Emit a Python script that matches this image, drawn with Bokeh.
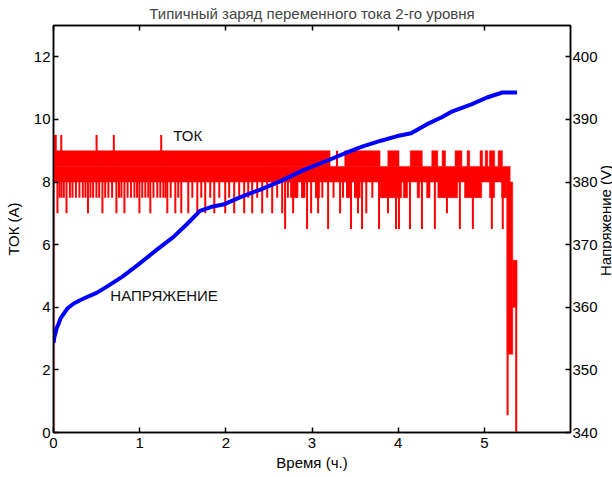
import math
from bokeh.plotting import figure
from bokeh.layouts import row
from bokeh.models import Range1d, LinearAxis, FixedTicker, Label, ColumnDataSource
from bokeh.embed import file_html
from bokeh.resources import INLINE

FONT = "Liberation Sans"

TITLE = "Типичный заряд переменного тока 2-го уровня"
X_LABEL = "Время (ч.)"
Y_LEFT_LABEL = "ТОК (A)"
Y_RIGHT_LABEL = "Напряжение (V)"
CURRENT_NAME = "ТОК"
VOLTAGE_NAME = "НАПРЯЖЕНИЕ"

x_ticks = [0, 1, 2, 3, 4, 5]
y_left_ticks = [0, 2, 4, 6, 8, 10, 12]
y_right_ticks = [340, 350, 360, 370, 380, 390, 400]

# Voltage (V) over time (h)
volt_t = [0.000, 0.010, 0.023, 0.040, 0.060, 0.080, 0.110, 0.160, 0.235, 0.35, 0.50,
          0.62, 0.80, 1.01, 1.20, 1.39, 1.55, 1.70, 1.85, 1.97, 2.17, 2.40, 2.63,
          2.90, 3.21, 3.40, 3.59, 3.80, 3.98, 4.15, 4.33, 4.50, 4.63, 4.85, 5.03,
          5.21, 5.38]
volt_v = [354.3, 355.2, 355.9, 356.8, 357.4, 358.2, 358.8, 359.8, 360.6, 361.4, 362.3,
          363.3, 364.9, 367.1, 369.2, 371.2, 373.3, 375.4, 376.1, 376.4, 377.6, 378.8, 380.1,
          381.9, 383.6, 384.7, 385.7, 386.6, 387.3, 387.8, 389.2, 390.3, 391.3, 392.4, 393.5,
          394.3, 394.3]

# Current (A): dense oscillation bands (time span and level span)
band_t0 = [0.00, 0.00, 0.00, 3.38, 3.88, 4.14, 4.39, 4.51, 4.66, 4.80, 4.95, 5.01, 5.06, 5.16,
           2.77, 2.885, 3.04, 3.41, 3.50, 3.79, 4.06, 4.22, 4.33, 4.46, 4.77, 5.06, 5.20,
           5.26, 5.33]
band_t1 = [5.30, 3.21, 0.035, 3.79, 4.01, 4.28, 4.46, 4.55, 4.74, 4.83, 4.98, 5.04, 5.12, 5.21,
           2.83, 2.92, 3.09, 3.46, 3.56, 4.04, 4.11, 4.25, 4.37, 4.69, 4.97, 5.12, 5.26,
           5.33, 5.38]
band_lo = [8.0, 8.5, 9.0, 8.5, 8.5, 8.5, 8.5, 8.5, 8.5, 8.5, 8.5, 8.5, 8.5, 8.5,
           7.5, 7.5, 7.5, 7.5, 7.5, 7.5, 7.5, 7.5, 7.5, 7.5, 7.5, 7.5, 7.5,
           2.5, 4.0]
band_hi = [8.5, 9.0, 9.5, 9.0, 9.0, 9.0, 9.0, 9.0, 9.0, 9.0, 9.0, 9.0, 9.0, 9.0,
           8.0, 8.0, 8.0, 8.0, 8.0, 8.0, 8.0, 8.0, 8.0, 8.0, 8.0, 8.0, 8.0,
           8.0, 5.5]

# Current (A): single-sample excursions (time, from level, to level)
spike_t = [0.000,
           0.09, 0.50, 0.70, 1.25, 3.29,
           0.046, 0.093, 0.151, 0.220, 0.301, 0.371, 0.429, 0.498, 0.568, 0.637,
           0.730, 0.788, 0.823, 0.939, 0.997, 1.066, 1.124, 1.205, 1.275, 1.321,
           1.414, 1.448, 1.483, 1.564, 1.611, 1.669, 1.715, 1.761, 1.819, 1.866,
           1.924, 1.993, 2.039, 2.097, 2.155, 2.213, 2.260, 2.306, 2.364, 2.422,
           2.480, 2.538, 2.596, 2.654,
           2.688, 2.758, 2.781, 2.885, 2.943, 3.048, 3.071, 3.187, 3.326, 3.407,
           3.453, 3.499, 3.534, 3.581, 3.778, 3.824, 3.882, 3.928, 3.975,
           4.009, 4.137, 4.276, 4.426, 4.566, 4.716, 4.867, 5.087, 5.214,
           0.07, 0.12, 0.19, 0.26, 0.34, 0.40, 0.46, 0.53, 0.60, 0.68, 0.76,
           0.86, 0.90, 0.97, 1.03, 1.10, 1.16, 1.24, 1.30, 1.36,
           2.72, 2.83, 2.99, 3.12, 3.25, 3.36, 3.63, 3.70,
           5.27, 5.37]
spike_from = [0.0,
              8.5, 8.5, 8.5, 8.5, 8.5,
              8.0, 8.0, 8.0, 8.0, 8.0, 8.0, 8.0, 8.0, 8.0, 8.0,
              8.0, 8.0, 8.0, 8.0, 8.0, 8.0, 8.0, 8.0, 8.0, 8.0,
              8.0, 8.0, 8.0, 8.0, 8.0, 8.0, 8.0, 8.0, 8.0, 8.0,
              8.0, 8.0, 8.0, 8.0, 8.0, 8.0, 8.0, 8.0, 8.0, 8.0,
              8.0, 8.0, 8.0, 8.0,
              8.0, 8.0, 8.0, 8.0, 8.0, 8.0, 8.0, 8.0, 8.0, 8.0,
              8.0, 8.0, 8.0, 8.0, 8.0, 8.0, 8.0, 8.0, 8.0,
              8.0, 8.0, 8.0, 8.0, 8.0, 8.0, 8.0, 8.0, 8.0,
              8.0, 8.0, 8.0, 8.0, 8.0, 8.0, 8.0, 8.0, 8.0, 8.0, 8.0,
              8.0, 8.0, 8.0, 8.0, 8.0, 8.0, 8.0, 8.0, 8.0,
              8.0, 8.0, 8.0, 8.0, 8.0, 8.0, 8.0, 8.0,
              2.5, 4.0]
spike_to = [9.5,
            9.5, 9.5, 9.5, 9.5, 9.0,
            7.0, 7.5, 7.0, 7.5, 7.5, 7.5, 7.5, 7.5, 7.0, 7.5,
            7.0, 7.5, 7.0, 7.5, 7.0, 7.5, 7.0, 7.5, 7.5, 7.0,
            7.0, 7.5, 7.0, 7.0, 7.5, 7.0, 7.5, 7.0, 7.5, 7.0,
            7.5, 7.0, 7.5, 7.0, 7.5, 7.0, 7.5, 7.0, 7.5, 7.0,
            7.5, 7.0, 7.5, 7.0,
            6.5, 7.5, 7.0, 7.5, 6.5, 7.5, 7.0, 6.5, 7.0, 7.5,
            6.5, 7.5, 7.0, 6.5, 6.5, 7.5, 7.0, 7.5, 6.5,
            6.5, 6.5, 6.5, 6.5, 7.0, 6.5, 6.5, 6.5, 6.5,
            7.5, 7.5, 7.5, 7.5, 7.5, 7.0, 7.5, 7.5, 7.5, 7.5, 7.5,
            7.5, 7.5, 7.5, 7.5, 7.5, 7.5, 7.5, 7.5, 7.5,
            7.5, 7.5, 7.0, 7.5, 7.5, 7.5, 7.0, 7.5,
            0.55, 0.0]

p = figure(width=600, height=477, output_backend="svg", toolbar_location=None,
           x_range=Range1d(0, 6), y_range=Range1d(0, 13),
           min_border_left=53, min_border_right=28, min_border_top=25, min_border_bottom=45,
           background_fill_color="white", border_fill_color="white")
p.extra_y_ranges = {"volts": Range1d(340, 405)}
p.xgrid.visible = False
p.ygrid.visible = False
p.outline_line_color = "black"
p.outline_line_width = 1.5

p.title.text = TITLE
p.title.text_font = FONT
p.title.text_font_size = "15px"
p.title.text_font_style = "normal"
p.title.align = "center"
p.title.standoff = 6
p.title.vertical_align = "middle"

band_src = ColumnDataSource(dict(left=band_t0, right=band_t1, bottom=band_lo, top=band_hi))
p.quad(left="left", right="right", bottom="bottom", top="top", source=band_src,
       fill_color="#ff0000", line_color="#ff0000", line_width=0.5)
spike_src = ColumnDataSource(dict(x0=spike_t, y0=spike_from, x1=spike_t, y1=spike_to))
p.segment(x0="x0", y0="y0", x1="x1", y1="y1", source=spike_src,
          line_color="#ff0000", line_width=2)

p.line(volt_t, volt_v, y_range_name="volts", line_color="#0000ff", line_width=4)

p.add_layout(Label(x=1.39, y=9.49, text=CURRENT_NAME, text_font=FONT, text_font_size="15px",
                   text_baseline="middle", text_color="#111111"))
p.add_layout(Label(x=0.66, y=4.39, text=VOLTAGE_NAME, text_font=FONT, text_font_size="15px",
                   text_baseline="middle", text_color="#111111"))


def style(ax):
    ax.major_tick_in = 5
    ax.major_tick_out = 0
    ax.minor_tick_line_color = None
    ax.axis_line_color = "black"
    ax.axis_line_width = 1.5
    ax.major_tick_line_color = "black"
    ax.major_tick_line_width = 1.5
    ax.major_label_text_font = FONT
    ax.major_label_text_font_size = "15px"
    ax.major_label_text_color = "black"
    ax.major_label_standoff = 3
    ax.axis_label_text_font = FONT
    ax.axis_label_text_font_size = "15px"
    ax.axis_label_text_font_style = "normal"
    ax.axis_label_text_color = "black"


xb = p.xaxis[0]
style(xb)
xb.ticker = FixedTicker(ticks=x_ticks)
xb.axis_label = X_LABEL
xb.major_label_standoff = 5
xb.axis_label_standoff = 3

yl = p.yaxis[0]
style(yl)
yl.ticker = FixedTicker(ticks=y_left_ticks)
yl.axis_label = Y_LEFT_LABEL
yl.axis_label_standoff = 9

yr = LinearAxis(y_range_name="volts")
style(yr)
yr.ticker = FixedTicker(ticks=y_right_ticks)
yr.major_label_standoff = 2
p.add_layout(yr, "right")

xt = LinearAxis()
style(xt)
xt.ticker = FixedTicker(ticks=x_ticks)
xt.major_label_overrides = {t: "" for t in x_ticks}
xt.major_label_text_font_size = "1px"
xt.major_label_text_color = None
xt.major_label_standoff = 0
p.add_layout(xt, "above")

# narrow strip to the right carrying the right-hand axis title (reads bottom to top)
side = figure(width=12, height=477, output_backend="svg", toolbar_location=None,
              x_range=Range1d(0, 12), y_range=Range1d(0, 477),
              x_axis_location=None, y_axis_location=None,
              min_border_left=0, min_border_right=0, min_border_top=0, min_border_bottom=0,
              background_fill_color="white", border_fill_color="white")
side.outline_line_color = None
side.xgrid.visible = False
side.ygrid.visible = False
side.add_layout(Label(x=5, y=477 - 228.5, text=Y_RIGHT_LABEL, angle=math.pi / 2,
                      text_align="center", text_baseline="middle",
                      text_font=FONT, text_font_size="15px", text_color="black"))

layout = row(p, side, spacing=0)

open("out.html", "w").write(file_html(layout, INLINE))
